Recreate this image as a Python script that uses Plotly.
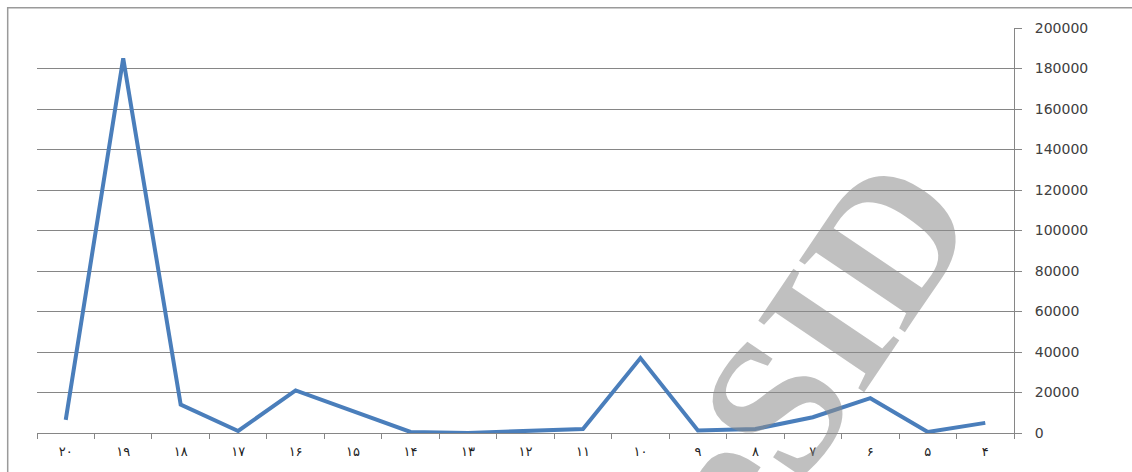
import plotly.graph_objects as go

categories = ["۲۰", "۱۹", "۱۸", "۱۷", "۱۶", "۱۵", "۱۴", "۱۳", "۱۲", "۱۱",
              "۱۰", "۹", "۸", "۷", "۶", "۵", "۴"]
values = [6500, 185000, 14000, 1000, 21000, 11000, 500, 0, 1000, 2000,
          37000, 1200, 2000, 7800, 17200, 500, 5000]
y_ticks = [0, 20000, 40000, 60000, 80000, 100000, 120000, 140000, 160000, 180000, 200000]

fig = go.Figure()
fig.add_trace(go.Scatter(
    x=categories, y=values, mode="lines",
    line=dict(color="#4a7ebb", width=4),
    showlegend=False, hoverinfo="skip",
))

fig.update_layout(
    width=1132, height=472,
    margin=dict(l=37, r=118, t=28, b=39),
    paper_bgcolor="white", plot_bgcolor="white",
    xaxis=dict(
        type="category", tickson="boundaries", ticks="outside", ticklen=5,
        tickcolor="#868686", tickwidth=1,
        showline=True, linecolor="#868686", linewidth=1,
        showgrid=False, zeroline=False,
        tickfont=dict(family="DejaVu Sans", size=13, color="#222222"),
        range=[-0.5, 16.5],
        ticklabelstandoff=6,
    ),
    yaxis=dict(
        side="right", range=[0, 200000], tickvals=y_ticks,
        ticktext=[str(v) for v in y_ticks],
        ticks="outside", ticklen=7, tickcolor="#868686",
        showline=True, linecolor="#868686", linewidth=1,
        showgrid=True, gridcolor="#868686", gridwidth=1,
        zeroline=False,
        tickfont=dict(family="DejaVu Sans", size=14, color="#404040"),
        ticklabelstandoff=10,
    ),
    shapes=[dict(type="rect", xref="paper", yref="paper",
                 x0=-0.03, x1=1.2, y0=-0.2, y1=1.05,
                 line=dict(color="#9a9a9a", width=1.5))],
    annotations=[dict(
        text="<b>eSID</b>", x=0.793, y=0.2, xref="paper", yref="paper",
        xanchor="center", yanchor="middle",
        showarrow=False, textangle=-56,
        font=dict(family="Liberation Serif", size=195,
                  color="rgba(140,140,140,0.55)"),
    )],
)

fig.write_html("out.html")
